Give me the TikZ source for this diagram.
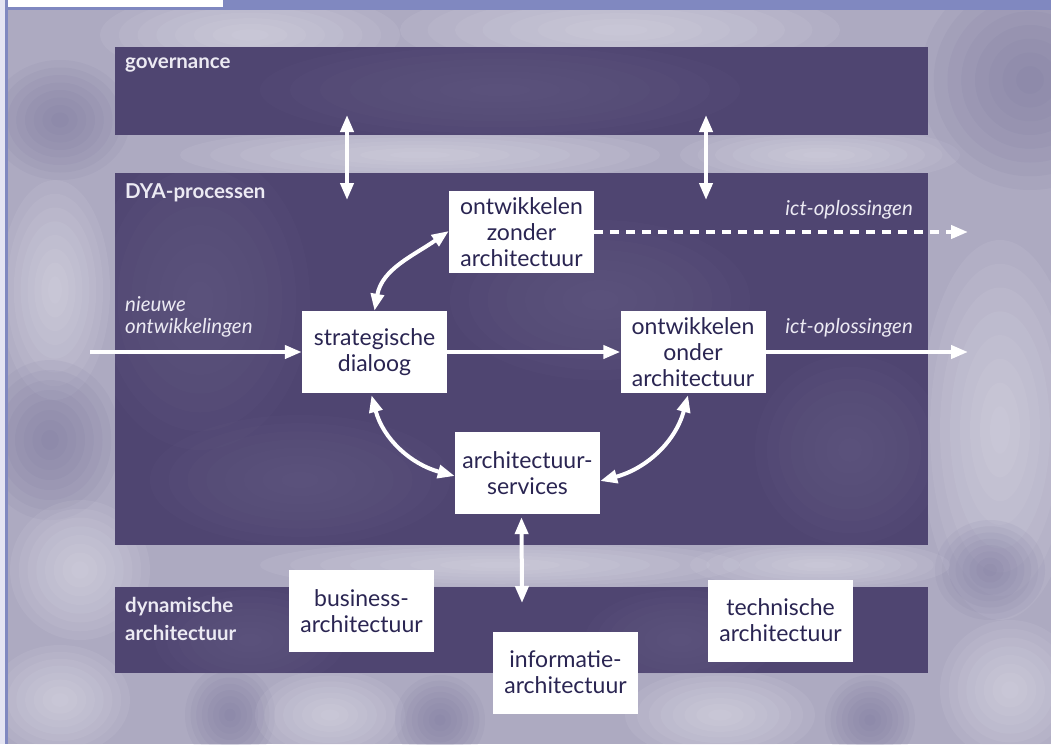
\documentclass[tikz,border=0pt]{standalone}
\usepackage{fontspec}
\setmainfont{Lato}
\usetikzlibrary{arrows.meta}
\definecolor{bgc}{HTML}{ADAAC1}
\definecolor{lite}{HTML}{E6E4EE}
\definecolor{dark}{HTML}{77739A}
\definecolor{band}{HTML}{4F4571}
\definecolor{bandl}{HTML}{6A628A}
\definecolor{ink}{HTML}{2A2552}
\definecolor{lab}{HTML}{ECEAF3}
\definecolor{edgeblue}{HTML}{8088C0}
\definecolor{edgelight}{HTML}{E4E4F2}
\newcommand\myblob[5]{\foreach \k in {1,...,8}{\fill[#1,opacity=0.09] (#2,#3) ellipse ({#4*\k/8} and {#5*\k/8});}}
\tikzset{
  box/.style={fill=white, text=ink, align=center, minimum width=145pt, minimum height=82pt, inner sep=2pt, font=\fontsize{23}{26}\selectfont},
  bandlabel/.style={text=lab, anchor=north west, align=left, inner sep=0pt, font=\fontsize{20.5}{28}\selectfont\bfseries},
  itlabel/.style={text=lab, inner sep=0pt, font=\fontsize{20.5}{22.5}\selectfont\itshape},
  wa/.style={draw=white, line width=4pt, -{Triangle[length=17pt,width=13pt]}},
  wda/.style={draw=white, line width=4pt, {Triangle[length=17pt,width=13pt]}-{Triangle[length=17pt,width=13pt]}},
}
\begin{document}
\begin{tikzpicture}[x=1pt,y=-1pt]
\useasboundingbox (0,0) rectangle (1051,744);
% background
\fill[bgc] (0,0) rectangle (1051,744);
\myblob{lite}{55}{290}{55}{110}
\myblob{dark}{50}{440}{70}{80}
\myblob{lite}{80}{570}{70}{70}
\myblob{dark}{60}{120}{70}{60}
\myblob{lite}{250}{35}{150}{45}
\myblob{lite}{620}{30}{220}{45}
\myblob{lite}{420}{155}{240}{28}
\myblob{lite}{820}{155}{140}{28}
\myblob{dark}{1030}{80}{110}{110}
\myblob{lite}{1000}{430}{80}{190}
\myblob{dark}{990}{570}{55}{50}
\myblob{lite}{1010}{690}{70}{70}
\myblob{lite}{60}{700}{70}{55}
\myblob{dark}{230}{715}{45}{50}
\myblob{lite}{330}{715}{75}{45}
\myblob{dark}{440}{720}{45}{45}
\myblob{lite}{720}{715}{95}{45}
\myblob{dark}{870}{720}{45}{45}
\myblob{lite}{500}{565}{240}{25}
\myblob{lite}{820}{565}{130}{25}
\fill[edgelight] (0,0) rectangle (5,744);
\fill[edgeblue] (5,0) rectangle (8,744);
\fill[edgeblue] (8,0) rectangle (1051,10);
\fill[white] (8,0) rectangle (223,7);
% bands
\fill[band] (115,47) rectangle (928,135);
\fill[band] (115,173) rectangle (928,545);
\fill[band] (115,587) rectangle (928,673);
\begin{scope}
\clip (115,47) rectangle (928,135) (115,173) rectangle (928,545) (115,587) rectangle (928,673);
\myblob{bandl}{500}{90}{240}{50}
\myblob{bandl}{200}{300}{110}{150}
\myblob{bandl}{600}{300}{150}{80}
\myblob{bandl}{850}{450}{95}{95}
\myblob{bandl}{300}{480}{150}{65}
\myblob{bandl}{250}{640}{95}{50}
\myblob{bandl}{680}{640}{95}{50}
\end{scope}
\node[bandlabel] (gov) at (125,58) {governance};
\node[bandlabel] (dya) at (125,183) {DYA-processen};
\node[bandlabel] (dyn) at (125,597) {dynamische\\architectuur};
% boxes
\node[box] (zonder) at (521.5,232) {ontwikkelen\\zonder\\architectuur};
\node[box] (strat) at (374.5,352) {strategische\\dialoog};
\node[box] (onder) at (693,352) {ontwikkelen\\onder\\architectuur};
\node[box] (serv) at (527.5,473) {architectuur-\\services};
\node[box] (bus) at (361.5,611) {business-\\architectuur};
\node[box] (info) at (565.5,672.5) {informatie-\\architectuur};
\node[box] (tech) at (780.5,620.5) {technische\\architectuur};
% labels
\node[itlabel, anchor=west, align=left] (nieuw) at (125,317) {nieuwe\\ontwikkelingen};
\node[itlabel, anchor=east] (ict1) at (913,210) {ict-oplossingen};
\node[itlabel, anchor=east] (ict2) at (913,328) {ict-oplossingen};
% coordinates
\coordinate (g1t) at (347,115);
\coordinate (g1b) at (347,200);
\coordinate (g2t) at (706,115);
\coordinate (g2b) at (706,200);
\coordinate (in) at (90,352);
\coordinate (out1) at (968,232);
\coordinate (out2) at (968,352);
\coordinate (dyt) at (522,603);
% arrows
\draw[wda] (g1t) -- (g1b);
\draw[wda] (g2t) -- (g2b);
\draw[wa] (in) -- (strat.west);
\draw[wa] (strat.east) -- (onder.west);
\draw[wa] (onder.east) -- (out2);
\draw[wa, dash pattern=on 9pt off 7pt] (zonder.east) -- (out1);
\draw[wda] ([xshift=0pt]strat.north) to[out=80,in=-145] ([yshift=1pt]zonder.west);
\draw[wda] ([xshift=-3pt,yshift=-2pt]strat.south) to[out=-75,in=165] ([yshift=-3pt]serv.west);
\draw[wda] ([xshift=-5pt,yshift=-2pt]onder.south) to[out=-105,in=15] ([yshift=-8pt]serv.east);
\draw[wda] ([xshift=-6pt,yshift=-3pt]serv.south) -- (dyt);
\end{tikzpicture}
\end{document}
